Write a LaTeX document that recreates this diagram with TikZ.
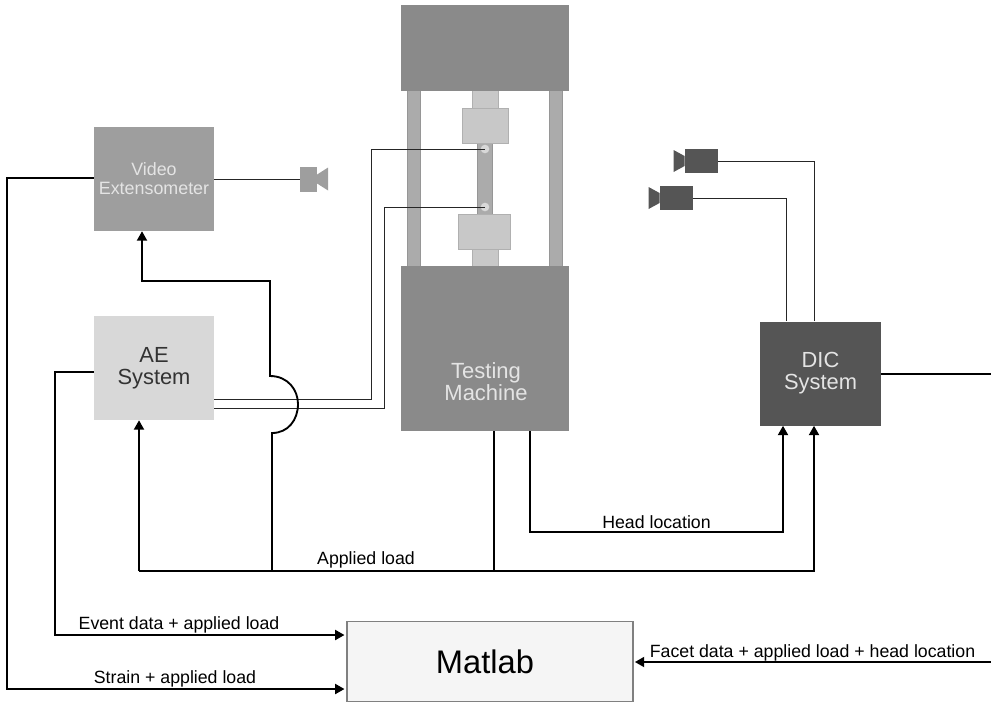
\documentclass[tikz,border=0pt]{standalone}
\usepackage{fontspec}
\usepackage{xcolor}
\setmainfont{Liberation Sans}
\usetikzlibrary{arrows.meta}
\definecolor{MachineGrey}{HTML}{8A8A8A}
\definecolor{ColumnGrey}{HTML}{ABABAB}
\definecolor{GripGrey}{HTML}{C8C8C8}
\definecolor{VideoGrey}{HTML}{9E9E9E}
\definecolor{AeGrey}{HTML}{D8D8D8}
\definecolor{DicGrey}{HTML}{555555}
\definecolor{MatlabFill}{HTML}{F5F5F5}
\definecolor{PaleText}{HTML}{E4E4E4}
\begin{document}
\begin{tikzpicture}[
      x=0.75pt, y=-0.75pt,
      font=\fontsize{13.3}{16}\selectfont,
      panel/.style={inner sep=0pt, align=center, minimum width=90pt, minimum height=78pt},
      part/.style={inner sep=0pt, draw=#1!88!black, line width=0.5pt, fill=#1},
      camera/.style={inner sep=0pt, fill=#1},
      bold/.style={line width=1.4pt, black},
      arr/.style={bold, -{Triangle[length=7pt,width=7.5pt]}},
      wire/.style={line width=0.75pt, black!85}
    ]
      \useasboundingbox (0,0) rectangle (991,704);
      % testing machine
      \node[part=ColumnGrey, minimum width=10pt, minimum height=132pt] (colleft) at (414,178.5) {};
      \node[part=ColumnGrey, minimum width=10pt, minimum height=132pt] (colright) at (555.5,178.5) {};
      \node[part=GripGrey, minimum width=19.5pt, minimum height=14pt] (neckup) at (485,99.5) {};
      \node[part=GripGrey, minimum width=19.5pt, minimum height=14pt] (necklow) at (485,257.5) {};
      \node[part=ColumnGrey, minimum width=11pt, minimum height=55pt] (specimen) at (485,179) {};
      \node[part=GripGrey, minimum width=34.5pt, minimum height=26.5pt] (gripup) at (485,125.5) {};
      \node[part=GripGrey, minimum width=39pt, minimum height=26pt] (griplow) at (484,232) {};
      \node[inner sep=0pt, fill=MachineGrey, minimum width=126pt, minimum height=64.5pt] (head) at (485,48) {};
      \node[inner sep=0pt, fill=MachineGrey, minimum width=126pt, minimum height=124pt] (tm) at (485,348.5) {};
      \node[text=PaleText, align=center, font=\fontsize{16.5}{16.5}\selectfont] (tmtext) at (486,382) {Testing\\Machine};
      \node[circle, inner sep=0pt, fill=AeGrey, minimum size=6.5pt] (marka) at (485,149) {};
      \node[circle, inner sep=0pt, fill=AeGrey, minimum size=6.5pt] (markb) at (485,207) {};
      % boxes
      \node[panel, fill=VideoGrey, text=PaleText, font=\fontsize{13.4}{14.3}\selectfont] (video) at (154,179) {Video\\Extensometer};
      \node[panel, fill=AeGrey, text=black!80, font=\fontsize{16.4}{16.5}\selectfont] (ae) at (154,368) {AE\\System};
      \node[panel, fill=DicGrey, text=PaleText, minimum width=91pt, font=\fontsize{16.4}{16.5}\selectfont] (dic) at (820.5,373.5) {DIC\\System};
      \node[draw=black!50, line width=0.8pt, fill=MatlabFill, inner sep=0pt, minimum width=214.5pt, minimum height=60.5pt] (matlab) at (490,661.5) {};
      \node[font=\fontsize{24.5}{28}\selectfont] (mltext) at (485,661.5) {Matlab};
      % cameras
      \node[camera=VideoGrey, minimum width=12.5pt, minimum height=18.5pt] (camv) at (308.5,179.5) {};
      \node[camera=DicGrey, minimum width=25pt, minimum height=18pt] (camtop) at (701.5,161) {};
      \node[camera=DicGrey, minimum width=25pt, minimum height=18pt] (camlow) at (676.5,198) {};
      \fill[VideoGrey] (camv.east) ++(0,-5) -- ++(11,-7) -- ++(0,23) -- ++(-11,-7) -- cycle;
      \fill[DicGrey] (camtop.west) ++(0,-5) -- ++(-11,-6) -- ++(0,22) -- ++(11,-6) -- cycle;
      \fill[DicGrey] (camlow.west) ++(0,-5) -- ++(-11,-6) -- ++(0,22) -- ++(11,-6) -- cycle;
      % junctions and free ends
      \coordinate (loadleft) at (139,571);
      \coordinate (loadtm) at (494,571);
      \coordinate (loaddic) at (814,571);
      \coordinate (loadup) at (272,571);
      \coordinate (jumplow) at (272,433);
      \coordinate (jumptop) at (270,376);
      \coordinate (videobend) at (270,281);
      \coordinate (videoup) at (142,281);
      \coordinate (headtap) at (530,532);
      \coordinate (headdic) at (783,532);
      \coordinate (eventdown) at (55,372);
      \coordinate (eventin) at (55,635);
      \coordinate (straindown) at (7,178);
      \coordinate (strainin) at (7,689);
      \coordinate (dicfree) at (991,374);
      \coordinate (facetfree) at (991,662);
      \coordinate (wirea) at (371,399);
      \coordinate (wireb) at (384,408);
      \coordinate (droptop) at (814,250);
      \coordinate (droplow) at (786,250);
      % thin wires
      \draw[wire] (video.east |- camv.west) -- (camv.west);
      \draw[wire] (ae.east |- wirea) -- (wirea) |- (marka.center);
      \draw[wire] (ae.east |- wireb) -- (wireb) |- (markb.center);
      \draw[wire] (droptop |- dic.north) |- (camtop.east);
      \draw[wire] (droplow |- dic.north) |- (camlow.east);
      % thick lines
      \draw[arr] (loadleft) -- (loadleft |- ae.south);
      \draw[arr] (loadleft) -- (loaddic) -- (loaddic |- dic.south);
      \draw[bold] (loadtm |- tm.south) -- (loadtm);
      \draw[arr] (headtap |- tm.south) -- (headtap) -- (headdic) -- (headdic |- dic.south);
      \draw[arr] (loadup) -- (jumplow) .. controls (288,433) and (298,420) .. (298,404)
        .. controls (298,390) and (288,376) .. (jumptop) -- (videobend) -- (videoup) -- (videoup |- video.south);
      \draw[arr, shorten >=1.5pt] (ae.west |- eventdown) -- (eventdown) -- (eventin) -- (eventin -| matlab.west);
      \draw[arr, shorten >=1.5pt] (video.west |- straindown) -- (straindown) -- (strainin) -- (strainin -| matlab.west);
      \draw[bold] (dic.east |- dicfree) -- (dicfree);
      \draw[arr, shorten >=1pt] (facetfree) -- (facetfree -| matlab.east);
      % labels
      \node (lblload) at (366,559.5) {Applied load};
      \node (lblhead) at (656.5,522) {Head location};
      \node (lblevent) at (179,624.5) {Event data + applied load};
      \node (lblstrain) at (175,679) {Strain + applied load};
      \node (lblfacet) at (812.5,653) {Facet data + applied load + head location};
    \end{tikzpicture}
\end{document}
